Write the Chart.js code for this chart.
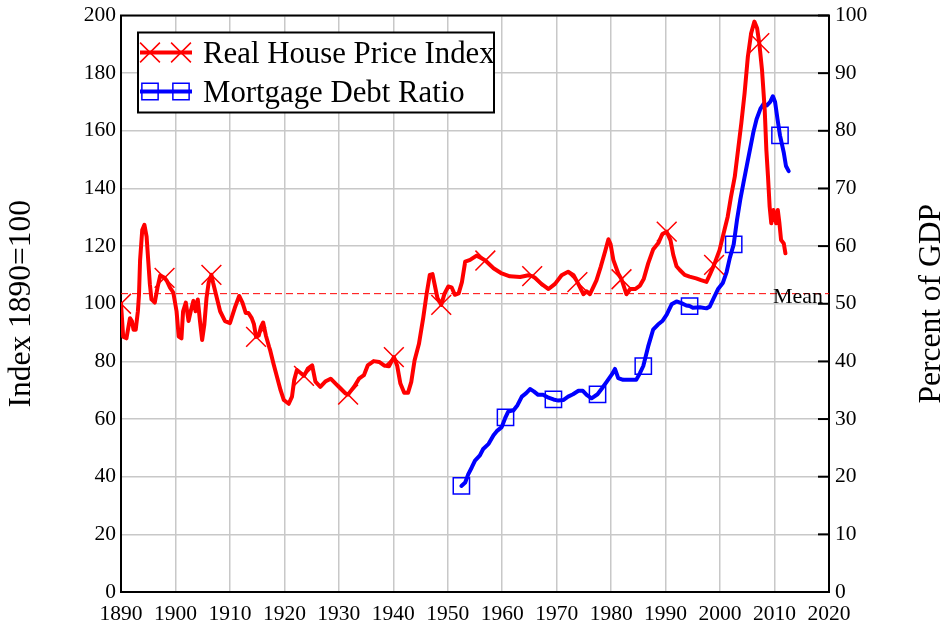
<!DOCTYPE html>
<html><head><meta charset="utf-8">
<script src="https://cdn.jsdelivr.net/npm/chart.js@4/dist/chart.umd.min.js"></script>
<style>html,body{margin:0;padding:0;background:#fff}#wrap{width:946px;height:626px}</style>
</head><body><div id="wrap"><canvas id="c" width="946" height="626"></canvas></div>
<script>
// ---- Data ----
const hpLabel = 'Real House Price Index';
const mdLabel = 'Mortgage Debt Ratio';
const hpYears = [1890.0,1890.4,1891.0,1891.65,1892.0,1892.3,1892.7,1893.1,1893.3,1893.5,1893.9,1894.3,1894.7,1895.0,1895.3,1895.6,1896.2,1896.7,1897.2,1898.0,1898.4,1899.0,1899.6,1900.2,1900.6,1901.1,1901.4,1901.9,1902.4,1902.8,1903.3,1903.7,1904.1,1904.5,1904.9,1905.3,1905.7,1906.1,1906.6,1906.9,1907.6,1908.2,1909.1,1910.0,1910.9,1911.7,1912.3,1912.9,1913.4,1914.0,1914.4,1914.8,1915.3,1915.7,1916.1,1916.6,1917.2,1917.4,1918.0,1918.65,1919.3,1919.9,1920.8,1921.4,1921.8,1922.3,1923.1,1923.6,1924.3,1925.1,1925.7,1926.6,1927.5,1928.5,1929.4,1930.3,1931.2,1931.7,1932.1,1932.8,1933.7,1934.6,1935.3,1936.4,1937.4,1938.3,1939.2,1940.1,1940.7,1941.3,1942.0,1942.7,1943.3,1943.9,1944.7,1945.5,1946.1,1946.7,1947.2,1947.6,1948.1,1948.8,1949.4,1950.1,1950.7,1951.3,1952.0,1952.6,1953.2,1954.1,1955.3,1956.2,1956.9,1958.4,1959.9,1961.4,1963.3,1964.8,1965.5,1966.0,1967.2,1968.5,1969.7,1970.9,1972.1,1973.1,1973.8,1974.9,1975.5,1976.1,1976.7,1977.3,1978.1,1978.9,1979.5,1979.9,1980.4,1981.3,1981.9,1982.8,1983.5,1984.4,1985.3,1986.0,1986.8,1987.7,1988.7,1989.4,1990.2,1990.9,1991.4,1992.0,1992.6,1993.5,1994.4,1995.6,1996.5,1997.5,1998.1,1998.9,1999.9,2000.8,2001.4,2002.0,2002.7,2003.3,2003.9,2004.5,2005.1,2005.7,2006.3,2006.8,2007.2,2007.7,2008.2,2008.5,2008.8,2009.1,2009.4,2009.8,2010.3,2010.6,2010.9,2011.2,2011.7,2012.0];
const hpValues = [100,88.6,88,95,94,91,91,97.4,103,115,125.6,127.4,123.3,115,106.8,101.5,100.4,105.6,109.8,109,108,105.6,103.9,97.4,88.6,88,97.4,100.4,94,97.4,101,97.4,101.5,94,87.4,92.7,102,107.4,110,107.4,102,97.4,94,93.3,98.6,102.7,100.4,96.8,96.8,95,93,88.5,89,92,93.5,89,85,83.8,79.2,74.6,70,66.6,65.3,67.8,73.5,77,75.8,75,77.5,78.6,73,71.2,73,74,72.3,70.6,68.9,68.5,69.5,71.2,74,75.2,78.6,80.1,79.8,78.6,78.3,81.5,78.6,72.3,69.1,69.1,72.9,80.3,86,95.2,103.2,110,110.3,106.6,102,99.6,103.5,106,105.7,103.1,103.6,107.5,114.6,115.2,116.7,115.8,115,112.3,110.5,109.5,109.3,109.9,109.6,109,106.9,105.1,106.9,109.9,111.1,109.9,107.5,103.3,104.3,103.3,105.7,108.1,112.9,118.2,122.4,120.6,115.2,110.5,108.5,103.3,105.1,105.1,106.3,108.7,114,118.8,121.2,124.2,125,122,117,113,111.7,110,109.4,108.8,108.2,107.6,110,113.5,118.6,125.6,130.2,137.1,144.1,153.3,162.6,173,185.7,193.8,197.9,195.6,190.4,181.1,167.2,153.3,144.1,133.7,127.9,132.5,127.9,132.5,127.9,122.1,120.9,117.5];
const hpMarkerYears = [1890.0,1898.0,1906.6,1914.8,1923.6,1931.7,1940.1,1948.8,1956.9,1965.5,1973.8,1981.9,1990.2,1998.9,2007.2];

const mdYears = [1952.5,1953.2,1953.8,1954.4,1955.0,1955.9,1956.5,1957.5,1958.4,1959.0,1959.9,1960.6,1961.1,1962.05,1962.8,1963.6,1964.4,1965.1,1965.8,1966.6,1967.5,1968.5,1969.4,1970.3,1971.2,1972.1,1973.0,1974.0,1974.8,1975.5,1976.4,1977.5,1978.3,1979.2,1980.1,1980.7,1981.3,1982.2,1983.5,1984.6,1985.3,1985.9,1986.8,1987.7,1988.6,1989.4,1990.2,1991.1,1992.0,1992.9,1993.8,1994.4,1995.0,1996.3,1997.5,1998.1,1998.7,1999.6,2000.5,2001.2,2001.8,2002.5,2003.1,2003.7,2004.3,2004.9,2005.5,2006.1,2006.7,2007.4,2008.0,2008.6,2009.2,2009.7,2010.1,2010.55,2011.0,2011.7,2012.1,2012.6];
const mdValues = [18.4,19,20.5,21.6,22.8,23.7,24.8,25.7,27.2,27.9,28.6,30.3,31.3,31.5,32.4,33.9,34.5,35.2,34.8,34.2,34.2,33.7,33.4,33.2,33.3,33.9,34.3,34.9,34.9,34.2,33.6,34.3,35.3,36.5,37.7,38.7,37.1,36.8,36.8,36.8,38,39.2,42.6,45.5,46.4,47,48.1,49.9,50.4,50.1,49.7,49.6,49.3,49.4,49.2,49.5,50.7,52.5,53.6,55.5,58,60.3,64.5,68,71,73.9,76.8,79.7,82,83.8,84.7,84.4,85,86,85,82,79.2,76.2,73.9,73];
const mdMarkerYears = [1952.5,1960.6,1969.4,1977.5,1985.9,1994.4,2002.5,2011.0];

const meanIndex = 103.5;
const meanLabel = 'Mean';
const leftTitle = 'Index 1890=100';
const rightTitle = 'Percent of GDP';
const xRange = [1890, 2020], xStep = 10;
const leftRange = [0, 200], leftStep = 20;
const rightRange = [0, 100], rightStep = 10;

// ---- Styling ----
const FONT = "'Liberation Serif','Times New Roman',serif";
const RED = '#ff0000', BLUE = '#0000ff', GRID = '#c8c8c8';

const toPoints = (xs, ys) => xs.map((x, i) => ({x: x, y: ys[i]}));

const bgPlugin = {
  id: 'bg',
  beforeDraw(chart) {
    const c = chart.ctx; c.save(); c.fillStyle = '#fff';
    c.fillRect(0, 0, chart.width, chart.height); c.restore();
  }
};

const meanPlugin = {
  id: 'meanLine',
  beforeDatasetsDraw(chart) {
    const {ctx, chartArea: a, scales} = chart;
    const y = scales.y.getPixelForValue(meanIndex);
    ctx.save();
    ctx.strokeStyle = RED; ctx.lineWidth = 1; ctx.setLineDash([7, 4]);
    ctx.beginPath(); ctx.moveTo(a.left, y); ctx.lineTo(a.right, y); ctx.stroke();
    ctx.restore();
  },
  afterDraw(chart) {
    const {ctx, chartArea: a, scales} = chart;
    const y = scales.y.getPixelForValue(meanIndex);
    ctx.save();
    ctx.fillStyle = '#000'; ctx.font = '22px ' + FONT;
    ctx.textAlign = 'left'; ctx.textBaseline = 'alphabetic';
    ctx.fillText(meanLabel, a.right - 56, y + 9.5);
    ctx.restore();
  }
};

const framePlugin = {
  id: 'frame',
  afterDraw(chart) {
    const {ctx, chartArea: a, scales} = chart;
    ctx.save();
    ctx.strokeStyle = '#000'; ctx.lineWidth = 2;
    ctx.beginPath(); ctx.moveTo(a.left - 1, a.top); ctx.lineTo(a.right + 1, a.top); ctx.stroke();
    const s = scales.y1;
    s.ticks.forEach(t => {
      const y = s.getPixelForValue(t.value);
      ctx.beginPath(); ctx.moveTo(a.right - 11, y); ctx.lineTo(a.right, y); ctx.stroke();
    });
    ctx.fillStyle = '#000'; ctx.font = '31.5px ' + FONT;
    ctx.textAlign = 'center'; ctx.textBaseline = 'middle';
    ctx.translate(932, (a.top + a.bottom) / 2);
    ctx.rotate(-Math.PI / 2);
    ctx.fillText(rightTitle, 0, 0);
    ctx.restore();
  }
};

const legendPlugin = {
  id: 'boxLegend',
  afterDraw(chart) {
    const {ctx, chartArea: a} = chart;
    const bx = a.left + 17, by = a.top + 17, bw = 356, bh = 80;
    ctx.save();
    ctx.fillStyle = '#fff'; ctx.fillRect(bx, by, bw, bh);
    ctx.strokeStyle = '#000'; ctx.lineWidth = 2; ctx.strokeRect(bx, by, bw, bh);
    chart.data.datasets.forEach((ds, i) => {
      const cy = by + 20 + i * 39;
      ctx.strokeStyle = ds.borderColor; ctx.lineWidth = 4;
      ctx.beginPath(); ctx.moveTo(bx + 2, cy); ctx.lineTo(bx + 54, cy); ctx.stroke();
      ctx.lineWidth = 1.5; ctx.strokeStyle = ds.borderColor; ctx.fillStyle = 'rgba(0,0,0,0)';
      [bx + 12, bx + 43].forEach(px => {
        Chart.helpers.drawPoint(ctx, {pointStyle: ds.pointStyle, radius: ds.markerSize, borderWidth: 1.5, rotation: 0}, px, cy);
      });
      ctx.fillStyle = '#000'; ctx.font = '30.8px ' + FONT;
      ctx.textAlign = 'left'; ctx.textBaseline = 'alphabetic';
      ctx.fillText(ds.label, bx + 65, cy + 10);
    });
    ctx.restore();
  }
};

const xTickFont = {family: FONT, size: 21.5};
const yTickFont = {family: FONT, size: 21.5, lineHeight: 0.7};

new Chart(document.getElementById('c'), {
  type: 'line',
  data: {
    datasets: [
      {
        label: hpLabel,
        data: toPoints(hpYears, hpValues),
        yAxisID: 'y',
        borderColor: RED, borderWidth: 4, borderJoinStyle: 'round', borderCapStyle: 'round',
        pointStyle: 'crossRot', markerSize: 14,
        pointRadius: c => (c.raw && hpMarkerYears.includes(c.raw.x)) ? 14 : 0,
        pointBorderColor: RED, pointBorderWidth: 1.5, pointBackgroundColor: 'rgba(0,0,0,0)',
        tension: 0, fill: false
      },
      {
        label: mdLabel,
        data: toPoints(mdYears, mdValues),
        yAxisID: 'y1',
        borderColor: BLUE, borderWidth: 4, borderJoinStyle: 'round', borderCapStyle: 'round',
        pointStyle: 'rect', markerSize: 11.5,
        pointRadius: c => (c.raw && mdMarkerYears.includes(c.raw.x)) ? 11.5 : 0,
        pointBorderColor: BLUE, pointBorderWidth: 1.5, pointBackgroundColor: 'rgba(0,0,0,0)',
        tension: 0, fill: false
      }
    ]
  },
  options: {
    responsive: false, animation: false, devicePixelRatio: 1,
    layout: {padding: {top: 15, left: 0, right: 0, bottom: 0}},
    plugins: {legend: {display: false}, tooltip: {enabled: false}},
    scales: {
      x: {
        type: 'linear', min: xRange[0], max: xRange[1],
        ticks: {stepSize: xStep, color: '#000', font: xTickFont, padding: 9, callback: v => String(v), maxRotation: 0, autoSkip: false},
        grid: {color: GRID, lineWidth: 1.5, drawTicks: false},
        border: {color: '#000', width: 2},
        afterFit: s => { s.height = 34; }
      },
      y: {
        position: 'left', min: leftRange[0], max: leftRange[1],
        ticks: {stepSize: leftStep, color: '#000', font: yTickFont, padding: 5},
        grid: {color: GRID, lineWidth: 1.5, drawTicks: false},
        border: {color: '#000', width: 2},
        title: {display: true, text: leftTitle, color: '#000', font: {family: FONT, size: 31.5, lineHeight: 1}, padding: {top: 6, bottom: 0}},
        afterFit: s => { s.width = 121; }
      },
      y1: {
        position: 'right', min: rightRange[0], max: rightRange[1],
        ticks: {stepSize: rightStep, color: '#000', font: yTickFont, padding: 6},
        grid: {drawOnChartArea: false, drawTicks: false},
        border: {color: '#000', width: 2},
        afterFit: s => { s.width = 117; }
      }
    }
  },
  plugins: [bgPlugin, meanPlugin, framePlugin, legendPlugin]
});
</script>
</body></html>
